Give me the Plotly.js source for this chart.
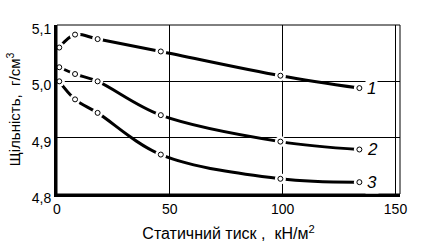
<!DOCTYPE html>
<html><head><meta charset="utf-8">
<script src="https://cdn.plot.ly/plotly-3.0.1.min.js"></script>
<style>html,body{margin:0;padding:0;background:#fff}#c{width:426px;height:252px}</style>
</head><body><div id="c"></div>
<script>
const pressure = [1, 8, 18, 46, 99, 134];
const density1 = [5.060, 5.083, 5.075, 5.053, 5.010, 4.988];
const density2 = [5.025, 5.013, 5.000, 4.940, 4.893, 4.879];
const density3 = [5.000, 4.968, 4.944, 4.870, 4.827, 4.821];
const curveLabels = ['1', '2', '3'];
const xTicks = [0, 50, 100, 150];
const yTicks = [4.8, 4.9, 5.0, 5.1];
const yTickText = ['4,8', '4,9', '5,0', '5,1'];

const font = 'Liberation Sans, Arial, sans-serif';
const series = [density1, density2, density3];
const traces = [];
const annotations = [];
series.forEach((ys, i) => {
  traces.push({x: pressure, y: ys, mode: 'lines+markers', line: {color: '#000', width: 3, shape: 'spline'},
    marker: {symbol: 'circle', size: 11, color: '#fff', line: {width: 0}}, hoverinfo: 'skip', showlegend: false, cliponaxis: false});
  traces.push({x: pressure, y: ys, mode: 'markers', marker: {symbol: 'circle-open', size: 5, color: '#000', line: {width: 1}},
    hoverinfo: 'skip', showlegend: false, cliponaxis: false});
  annotations.push({x: pressure[pressure.length - 1], y: ys[ys.length - 1], xref: 'x', yref: 'y',
    text: curveLabels[i], showarrow: false, xanchor: 'left', xshift: 6, yshift: 0, bgcolor: '#fff', borderpad: 1,
    font: {family: font, size: 17, color: '#000', style: 'italic'}});
});

const layout = {
  width: 426, height: 252,
  margin: {l: 57, r: 26, t: 25, b: 58},
  paper_bgcolor: '#fff', plot_bgcolor: '#fff',
  font: {family: font, size: 14, color: '#000'},
  xaxis: {range: [0, 152], tickvals: xTicks, ticks: '', showgrid: true, gridcolor: '#000', gridwidth: 1,
    zeroline: false, showline: true, linecolor: '#000', linewidth: 3,
    tickfont: {family: font, size: 14, color: '#000'},
    title: {text: 'Статичний тиск ,  кН/м<sup>2</sup>', font: {family: font, size: 16, color: '#000'}, standoff: 13}},
  yaxis: {range: [4.8, 5.1], tickvals: yTicks, ticktext: yTickText, ticks: '', showgrid: true, gridcolor: '#000', gridwidth: 1,
    zeroline: false, showline: true, linecolor: '#000', linewidth: 3,
    tickfont: {family: font, size: 14, color: '#000'}, ticklabelshift: 4,
    title: {text: 'Щільність,  г/см<sup>3</sup>', font: {family: font, size: 15, color: '#000'}, standoff: 8}},
  annotations: annotations,
  shapes: [{type: 'rect', xref: 'paper', yref: 'paper', x0: 0, x1: 1, y0: 0, y1: 1, line: {color: '#000', width: 1}, layer: 'above'}]
};
Plotly.newPlot('c', traces, layout, {staticPlot: true, displayModeBar: false});
</script></body></html>
